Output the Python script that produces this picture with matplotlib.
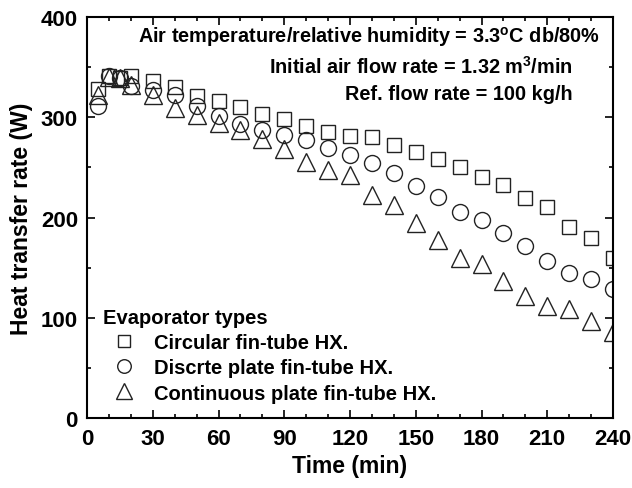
import numpy as np
import matplotlib.pyplot as plt

plt.rcParams['font.family'] = ['Liberation Sans', 'DejaVu Sans']
plt.rcParams['font.weight'] = 'bold'
plt.rcParams['mathtext.fontset'] = 'custom'
plt.rcParams['mathtext.rm'] = 'Liberation Sans:bold'
plt.rcParams['mathtext.default'] = 'rm'

# time (min)
time = [5, 10, 15, 20, 30, 40, 50, 60, 70, 80, 90, 100, 110, 120,
        130, 140, 150, 160, 170, 180, 190, 200, 210, 220, 230, 240]

# heat transfer rate (W)
circular = [328, 341, 339, 341, 336, 330, 321, 316, 310, 303, 298, 291, 285, 281,
            280, 272, 265, 258, 250, 240, 232, 219, 210, 191, 180, 160]
discrete = [311, 341, 339, 331, 327, 322, 311, 301, 293, 287, 282, 277, 269, 262,
            254, 244, 231, 220, 205, 198, 185, 172, 157, 145, 139, 129]
continuous = [322, 340, 339, 332, 322, 309, 302, 294, 287, 278, 268, 255, 247, 242,
              222, 212, 195, 178, 160, 154, 137, 122, 112, 109, 97, 86]

labels = ['Circular fin-tube HX.', 'Discrte plate fin-tube HX.', 'Continuous plate fin-tube HX.']

fig = plt.figure(figsize=(6.32, 4.89), dpi=100)
ax = fig.add_axes([0.1377, 0.1431, 0.8323, 0.8201])

ax.plot(time, circular, ls='none', marker='s', ms=9.5, mfc='none', mec='#222222', mew=1.0, label=labels[0])
ax.plot(time, discrete, ls='none', marker='o', ms=11.5, mfc='none', mec='#222222', mew=1.0, label=labels[1])
ax.plot(time, continuous, ls='none', marker='^', ms=13, mfc='none', mec='#222222', mew=1.0, label=labels[2])

ax.set_xlim(0, 240)
ax.set_ylim(0, 400)
ax.set_xticks(np.arange(0, 241, 30))
ax.set_xticks(np.arange(0, 241, 10), minor=True)
ax.set_yticks(np.arange(0, 401, 100))
ax.set_yticks(np.arange(0, 401, 50), minor=True)
ax.tick_params(which='both', direction='in', top=True, right=True, width=1.2, labelsize=16)
ax.tick_params(axis='x', pad=7.5)
ax.tick_params(axis='y', pad=6.5)
ax.tick_params(which='major', length=5.5)
ax.tick_params(which='minor', length=3)
for s in ax.spines.values():
    s.set_linewidth(1.5)

ax.set_xlabel('Time (min)', fontsize=16.5, fontweight='bold', labelpad=3)
ax.set_ylabel('Heat transfer rate (W)', fontsize=16.5, fontweight='bold', labelpad=6)

ax.text(0.975, 0.9377, 'Air temperature/relative humidity = 3.3$^{o}$C db/80%', transform=ax.transAxes,
        ha='right', va='baseline', fontsize=14.3, fontweight='bold')
ax.text(0.924, 0.8603, 'Initial air flow rate = 1.32 m$^{3}$/min', transform=ax.transAxes,
        ha='right', va='baseline', fontsize=14.3, fontweight='bold')
ax.text(0.924, 0.7955, 'Ref. flow rate = 100 kg/h', transform=ax.transAxes,
        ha='right', va='baseline', fontsize=14.3, fontweight='bold')

leg = ax.legend(title='Evaporator types', loc='lower left', bbox_to_anchor=(0.0, 0.0),
                frameon=False, fontsize=14.5, title_fontproperties={'weight': 'bold', 'size': 14.5},
                alignment='left', handletextpad=0.4, labelspacing=0.3, borderaxespad=0.37,
                borderpad=0.4, markerscale=0.85, handlelength=2.15)

fig.savefig('out.png', dpi=100)
